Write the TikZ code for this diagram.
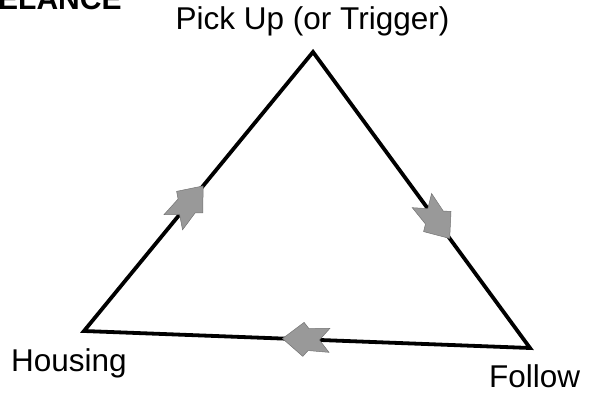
\documentclass[tikz,border=0pt]{standalone}
\usepackage{fontspec}
\setmainfont{Liberation Sans}
\usetikzlibrary{decorations.markings}
\tikzset{
  edge/.style={line width=3.8pt, line join=miter, black},
  lbl/.style={inner sep=0pt, font=\fontsize{31.5}{36}\selectfont},
  arrowhd/.style={fill=black!40, draw=black!55, line width=0.5pt},
}
\newcommand{\dartshape}{%
  \filldraw[arrowhd] (0,0) -- (-21,17) -- (-26,11) -- (-47,12) -- (-37,0)
    -- (-47,-12) -- (-26,-11) -- (-21,-17) -- cycle;}
\begin{document}
\begin{tikzpicture}[x=1pt,y=-1pt]
\useasboundingbox (0,0) rectangle (592,395);
\clip (0,0) rectangle (592,395);
\coordinate (T) at (313,52);
\coordinate (R) at (530,348);
\coordinate (L) at (84,331);
\draw[edge] (T) -- (R) -- (L) -- cycle;
% arrowheads
\path[decoration={markings, mark=at position 0.63 with {\dartshape}}, decorate] (T) -- (R);
\path[decoration={markings, mark=at position 0.52 with {\dartshape}}, decorate] (L) -- (T);
\path[decoration={markings, mark=at position 0.555 with {\dartshape}}, decorate] (R) -- (L);
% labels
\node[lbl, anchor=base] (pick) at (312.5,30) {Pick Up (or Trigger)};
\node[lbl, anchor=base west] (housing) at (11,372) {Housing};
\node[lbl, anchor=base west] (follow) at (489,388) {Follow};
\node[lbl, anchor=base west, font=\fontsize{30}{34}\selectfont\bfseries] (title) at (-2,10) {ELANCE};
\end{tikzpicture}
\end{document}
